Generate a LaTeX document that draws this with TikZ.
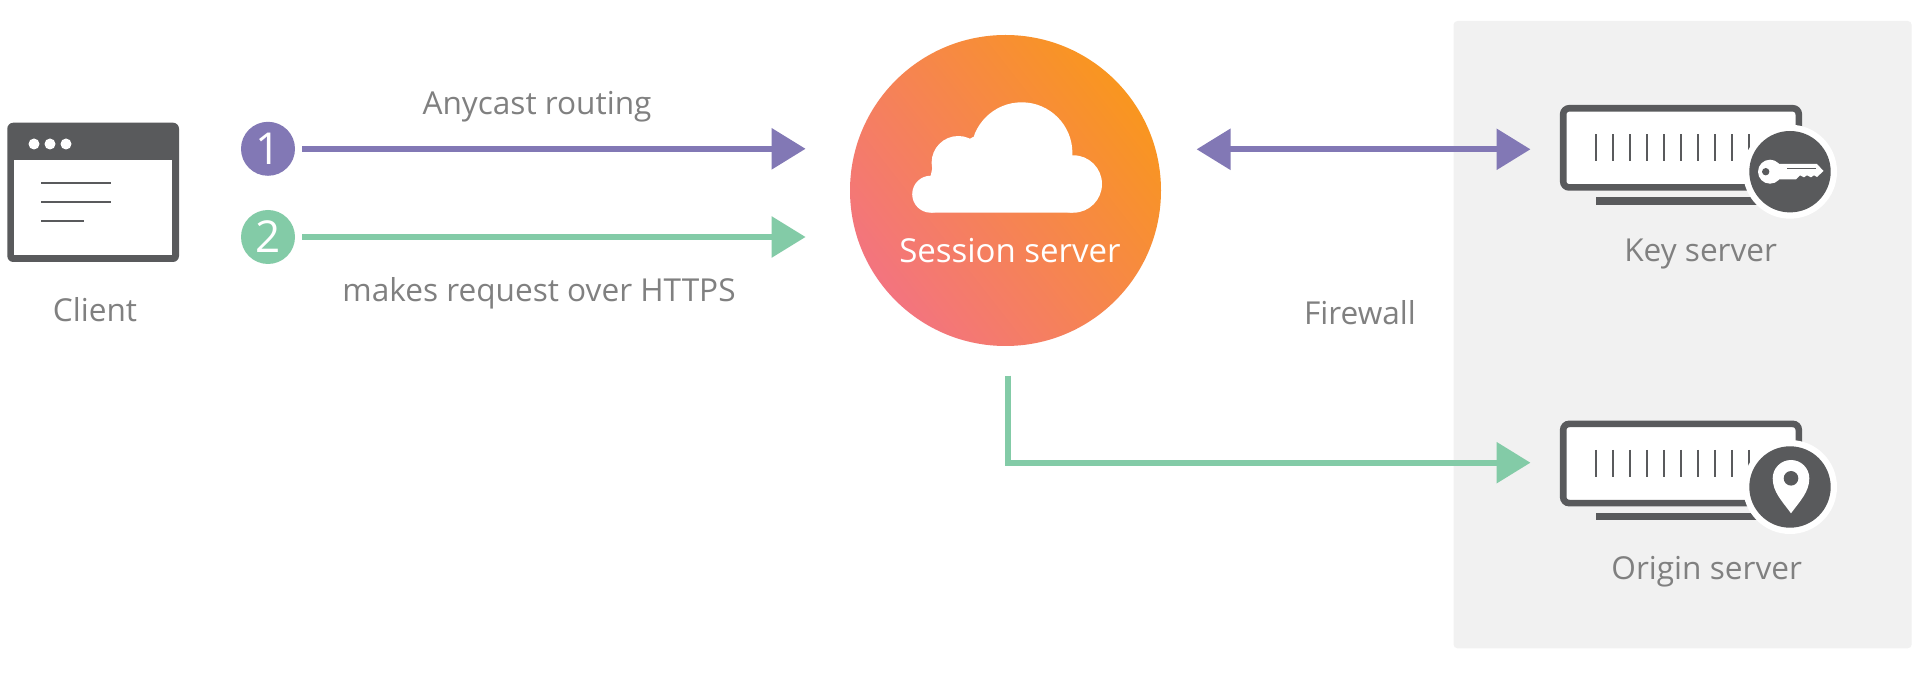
\documentclass[tikz,border=0pt]{standalone}
\usepackage{fontspec}
\setmainfont{Open Sans}
\usetikzlibrary{arrows.meta,calc}
\definecolor{icon}{HTML}{595A5C}
\definecolor{purp}{HTML}{8278B5}
\definecolor{mint}{HTML}{83CBA7}
\definecolor{txt}{HTML}{808080}
\definecolor{panel}{HTML}{F1F1F1}
\definecolor{gpink}{HTML}{F3747F}
\definecolor{gorange}{HTML}{F9961F}
\tikzset{
  lbl/.style={text=txt,font=\fontsize{15.8}{18}\selectfont,anchor=base,inner sep=0pt},
  badge/.style={circle,minimum size=27pt,inner sep=0pt,text=white,font=\fontsize{22}{24}\selectfont},
  conn/.style={line width=3pt},
  srvbox/.style={draw=icon,line width=3.3pt,fill=white,rounded corners=3pt,minimum width=117.8pt,minimum height=39.6pt,inner sep=0pt},
}
\newcommand{\serverticks}[1]{%
  \foreach \i in {0,...,9}{\draw[icon,line width=1.3pt] (1596+\i*17,134.3+#1) -- (1596+\i*17,161.3+#1);}%
  \fill[icon] (1596,197+#1) rectangle (1765,204.7+#1);
}
\begin{document}
\begin{tikzpicture}[x=0.5pt,y=-0.5pt]
\useasboundingbox (0,0) rectangle (1919,679);
\fill[white] (0,0) rectangle (1919,679);
\fill[panel,rounded corners=2pt] (1453.5,21) rectangle (1911.7,648.3);

% client window
\fill[icon,rounded corners=3pt] (7.3,122.7) rectangle (179,262);
\fill[white] (14,160.5) rectangle (172.3,255.3);
\foreach \x in {34,50,66}{\fill[white] (\x,144) circle (5.5);}
\draw[icon,line width=1.25pt] (41,183) -- (111,183);
\draw[icon,line width=1.25pt] (41,202) -- (111,202);
\draw[icon,line width=1.25pt] (41,221) -- (84,221);
\node[lbl] (client) at (95,321.5) {Client};

% badges
\node[badge,fill=purp] (b1) at (268,148.8) {1};
\node[badge,fill=mint] (b2) at (268,237) {2};

% session server
\node[circle,minimum size=155.5pt,inner sep=0pt,top color=gorange,bottom color=gpink,shading angle=-52] (session) at (1005.5,190.5) {};
\begin{scope}[white]
\fill (1073.3,184) circle (28.7);
\fill (1021.7,153) circle (50.7);
\fill (958.3,162.7) circle (26.7);
\fill (930.7,194.2) circle (18.5);
\fill (930.7,175.7) -- (934,160) -- (973,137) -- (1072,155.3) -- (1073.3,212.7) -- (930.7,212.7) -- cycle;
\end{scope}
\node[lbl,text=white,font=\fontsize{16.5}{18}\selectfont] (sesslabel) at (1010,262.5) {Session server};

% key server
\node[srvbox] (keybox) at (1681,147.85) {};
\serverticks{0}
\fill[white] (1790,171.7) circle (47);
\fill[icon] (1790,171.7) circle (40.7);
\fill[white] (1770,171.7) circle (12);
\fill[white] (1775,164) -- (1817,164) -- (1823.5,171) -- (1817,177) -- (1814,175.3) -- (1811,177.3) -- (1807,175.3) -- (1804,177.3) -- (1800,175.3) -- (1796,179.3) -- (1775,179.3) -- cycle;
\draw[icon,line width=0.8pt] (1787,168.7) -- (1816,168.7);
\fill[icon] (1765.7,171.7) circle (3.7);
\node[lbl] (keylabel) at (1700.7,262) {Key server};

% origin server
\node[srvbox] (originbox) at (1681,463.5) {};
\serverticks{315.67}
\fill[white] (1790,487) circle (47);
\fill[icon] (1790,487) circle (40.7);
\fill[white] (1791,513.3) .. controls (1782,501) and (1772.7,492) .. (1772.7,478.3) arc[start angle=180,end angle=360,radius=18.3] .. controls (1809.3,492) and (1800,501) .. (1791,513.3) -- cycle;
\fill[icon] (1791,478.3) circle (7.3);
\node[lbl] (originlabel) at (1706.7,579) {Origin server};

% connector labels
\node[lbl] (any) at (537,115) {Anycast routing};
\node[lbl] (req) at (539,302) {makes request over HTTPS};
\node[lbl] (fw) at (1360,325) {Firewall};

% connectors
\coordinate (keyin) at (1530.5,149.3);
\coordinate (originin) at (1530.5,462.7);
\coordinate (drop) at (1008.3,375.7);
\draw[conn,purp,-{Triangle[length=17pt,width=20pt]},shorten <=3.5pt,shorten >=22pt] (b1.east) -- (b1.east -| session.west);
\draw[conn,mint,-{Triangle[length=17pt,width=20pt]},shorten <=3.5pt,shorten >=22pt] (b2.east) -- (b2.east -| session.west);
\draw[conn,purp,{Triangle[length=17pt,width=20pt]}-{Triangle[length=17pt,width=20pt]},shorten <=17.6pt] (session.east |- keyin) -- (keyin);
\draw[conn,mint,-{Triangle[length=17pt,width=20pt]}] (drop) |- (originin);
\end{tikzpicture}
\end{document}
